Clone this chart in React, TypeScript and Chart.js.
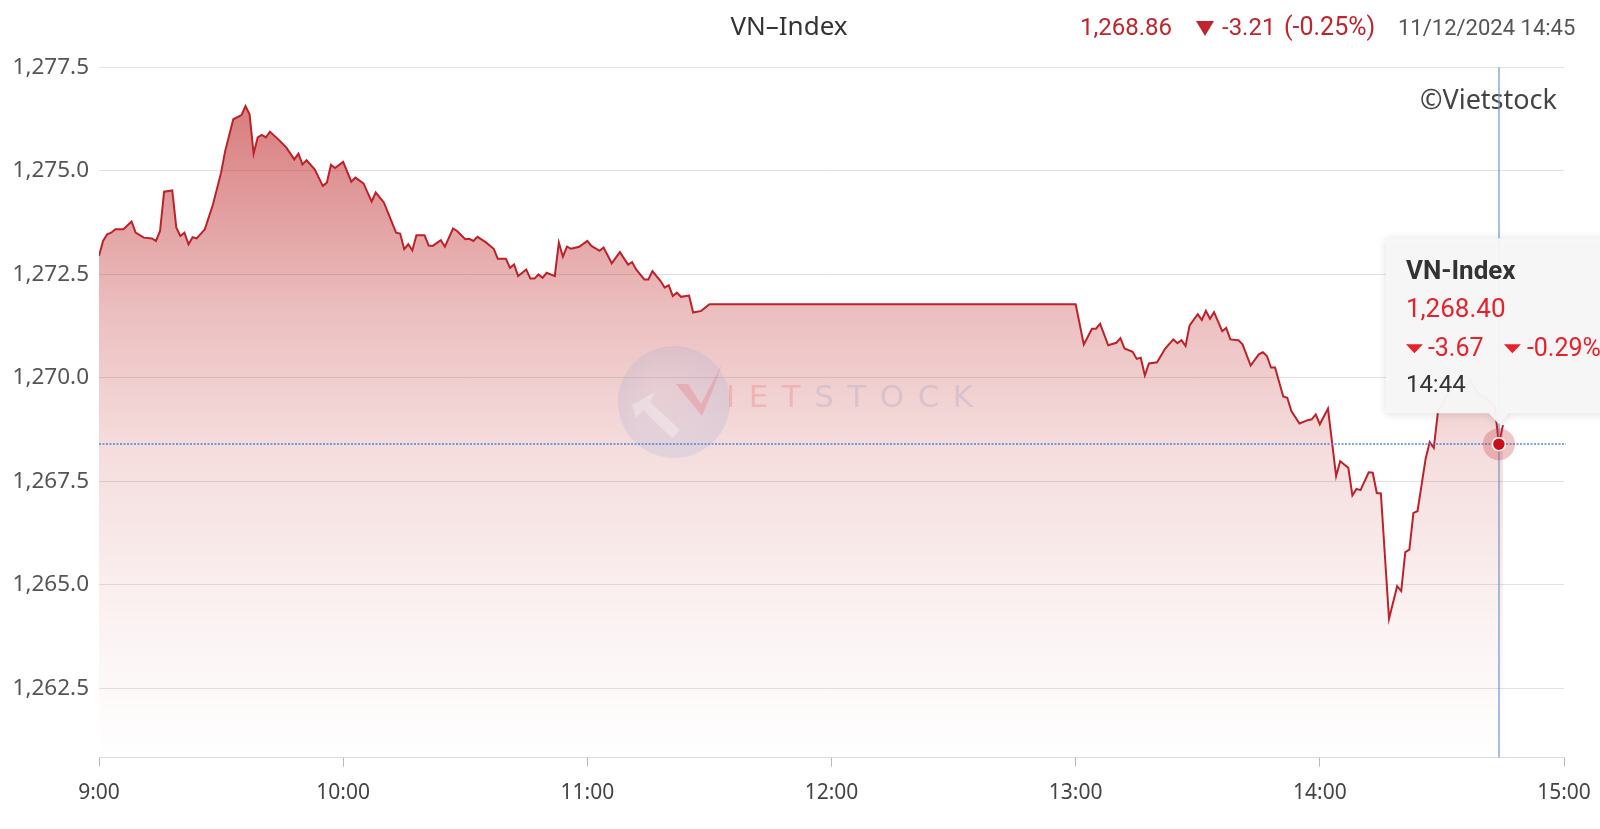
import { useEffect, useRef } from 'react';
import { Chart, registerables } from 'chart.js';

Chart.register(...registerables);

// ---- Data (minutes after 09:00, VN-Index value) ----
const minutes: number[] = [
  0, 1, 2, 3, 4, 6, 8, 9, 11, 13, 14, 15, 16, 18, 19, 20, 21, 22, 23, 24, 26, 28, 30, 31, 33, 35, 36, 37, 38, 39,
  40, 41, 42, 44, 46, 48, 49, 50, 51, 53, 55, 56, 57, 58, 60, 62, 63, 65, 67, 68, 70, 73, 74, 75, 76, 77, 78, 80,
  81, 82, 84, 85, 87, 88, 90, 91, 92, 93, 95, 97, 98, 100, 101, 102, 103, 104, 105, 106, 107, 108, 109, 110, 112,
  113, 114, 115, 116, 118, 120, 121, 123, 124, 126, 128, 130, 131, 132, 134, 135, 136, 138, 139, 140, 141, 142,
  143, 145, 146, 148, 150, 240, 242, 244, 245, 246, 248, 250, 251, 252, 254, 255, 256, 257, 258, 260, 262, 264,
  265, 266, 267, 268, 270, 271, 272, 273, 274, 276, 277, 278, 280, 281, 283, 285, 286, 287, 288, 289, 291, 292,
  293, 295, 297, 298, 299, 300, 302, 304, 305, 307, 308, 309, 310, 312, 313, 314, 315, 317, 319, 320, 321, 322,
  323, 324, 326, 327, 328, 329, 331, 333, 335, 337, 339, 341, 343, 344, 345,
];
const values: number[] = [
  1272.95, 1273.31, 1273.47, 1273.51, 1273.59, 1273.59, 1273.78, 1273.51, 1273.39, 1273.37, 1273.31, 1273.55,
  1274.5, 1274.53, 1273.63, 1273.43, 1273.51, 1273.23, 1273.4, 1273.37, 1273.59, 1274.19, 1274.96, 1275.48,
  1276.25, 1276.35, 1276.57, 1276.37, 1275.42, 1275.81, 1275.87, 1275.81, 1275.95, 1275.77, 1275.57, 1275.28,
  1275.42, 1275.16, 1275.26, 1275.04, 1274.64, 1274.72, 1275.15, 1275.07, 1275.22, 1274.74, 1274.84, 1274.7,
  1274.26, 1274.48, 1274.24, 1273.51, 1273.49, 1273.11, 1273.23, 1273.08, 1273.45, 1273.45, 1273.2, 1273.19,
  1273.33, 1273.17, 1273.61, 1273.55, 1273.35, 1273.36, 1273.31, 1273.41, 1273.28, 1273.12, 1272.88, 1272.88,
  1272.66, 1272.74, 1272.46, 1272.54, 1272.62, 1272.4, 1272.4, 1272.5, 1272.42, 1272.54, 1272.46, 1273.27,
  1272.93, 1273.17, 1273.12, 1273.17, 1273.31, 1273.19, 1273.07, 1273.15, 1272.77, 1273.04, 1272.74, 1272.8,
  1272.62, 1272.38, 1272.38, 1272.58, 1272.34, 1272.18, 1272.24, 1271.98, 1272.06, 1271.96, 1271.99, 1271.58,
  1271.62, 1271.78, 1271.78, 1270.81, 1271.19, 1271.19, 1271.31, 1270.79, 1270.85, 1270.96, 1270.71, 1270.63,
  1270.46, 1270.49, 1270.06, 1270.35, 1270.38, 1270.71, 1270.93, 1270.84, 1270.91, 1270.77, 1271.27, 1271.54,
  1271.4, 1271.62, 1271.43, 1271.59, 1271.13, 1271.21, 1270.93, 1270.91, 1270.81, 1270.3, 1270.57, 1270.62,
  1270.53, 1270.25, 1270.25, 1269.55, 1269.52, 1269.2, 1268.9, 1268.98, 1269.0, 1269.12, 1268.88, 1269.26,
  1267.63, 1267.99, 1267.83, 1267.16, 1267.32, 1267.29, 1267.72, 1267.71, 1267.22, 1267.21, 1264.18, 1264.97,
  1264.85, 1265.79, 1265.85, 1266.74, 1266.78, 1268.05, 1268.45, 1268.31, 1269.16, 1269.55, 1269.85, 1269.7,
  1269.95, 1269.6, 1269.5, 1269.3, 1268.4, 1268.86,
];

const xTickMinutes: number[] = [0, 60, 120, 180, 240, 300, 360];
const xTickLabels: string[] = ['9:00', '10:00', '11:00', '12:00', '13:00', '14:00', '15:00'];
const yTickValues: number[] = [1262.5, 1265, 1267.5, 1270, 1272.5, 1275, 1277.5];
const yMin = 1260.83;
const yMax = 1277.5;

const titleText = 'VN–Index';
const lastPrice = '1,268.86';
const lastChange = '-3.21';
const lastChangePct = '(-0.25%)';
const stampText = '11/12/2024 14:45';
const copyrightText = '©Vietstock';
const watermarkText = 'IETSTOCK';

const hoverSeries = 'VN-Index';
const hoverMinute = 344;
const hoverValue = 1268.4;
const hoverValueText = '1,268.40';
const hoverChange = '-3.67';
const hoverPct = '-0.29%';
const hoverTime = '14:44';

const W = 1600;
const H = 829;

function downTriangle(ctx: CanvasRenderingContext2D, x: number, y: number, w: number, h: number, color: string) {
  ctx.beginPath();
  ctx.moveTo(x, y);
  ctx.lineTo(x + w, y);
  ctx.lineTo(x + w / 2, y + h);
  ctx.closePath();
  ctx.fillStyle = color;
  ctx.fill();
}

function drawWatermark(ctx: CanvasRenderingContext2D) {
  ctx.save();
  const cx = 674;
  const cy = 402;
  const r = 56;
  const g = ctx.createRadialGradient(cx - 15, cy - 15, 5, cx, cy, r);
  g.addColorStop(0, 'rgba(185,192,222,0.18)');
  g.addColorStop(1, 'rgba(160,172,210,0.24)');
  ctx.fillStyle = g;
  ctx.beginPath();
  ctx.arc(cx, cy, r, 0, Math.PI * 2);
  ctx.fill();
  // arrow inside logo
  ctx.fillStyle = 'rgba(255,255,255,0.30)';
  ctx.beginPath();
  ctx.moveTo(632, 405);
  ctx.lineTo(655, 392);
  ctx.lineTo(650, 402);
  ctx.lineTo(680, 430);
  ctx.lineTo(672, 438);
  ctx.lineTo(643, 410);
  ctx.lineTo(636, 418);
  ctx.closePath();
  ctx.fill();
  // red V swoosh
  ctx.fillStyle = 'rgba(235,90,100,0.26)';
  ctx.beginPath();
  ctx.moveTo(676, 384);
  ctx.lineTo(688, 384);
  ctx.lineTo(701, 404);
  ctx.lineTo(722, 364);
  ctx.lineTo(712, 392);
  ctx.lineTo(702, 416);
  ctx.closePath();
  ctx.fill();
  // letters
  ctx.font = '31px "DejaVu Sans"';
  ctx.textAlign = 'left';
  ctx.textBaseline = 'middle';
  let x = 726;
  const spacing = 13.5;
  watermarkText.split('').forEach((ch, i) => {
    ctx.fillStyle = i < 3 ? 'rgba(235,95,105,0.26)' : 'rgba(150,158,190,0.28)';
    ctx.fillText(ch, x, 399);
    x += ctx.measureText(ch).width + spacing;
  });
  ctx.restore();
}

const overlayPlugin = {
  id: 'vnOverlay',
  afterDatasetsDraw(chart: any) {
    const { ctx, chartArea: ca, scales } = chart;
    const px = scales.x.getPixelForValue(hoverMinute);
    const py = scales.y.getPixelForValue(hoverValue);

    drawWatermark(ctx);

    // copyright
    ctx.save();
    ctx.font = '27px "Noto Sans"';
    ctx.fillStyle = '#444';
    ctx.textAlign = 'right';
    ctx.textBaseline = 'middle';
    ctx.fillText(copyrightText, 1557, 101);
    ctx.restore();

    // crosshairs
    ctx.save();
    ctx.lineWidth = 1.2;
    ctx.strokeStyle = '#6a94c8';
    const vx = Math.round(px);
    ctx.beginPath();
    ctx.moveTo(vx, ca.top);
    ctx.lineTo(vx, ca.bottom);
    ctx.stroke();
    ctx.setLineDash([2, 1.5]);
    ctx.lineWidth = 1.5;
    ctx.strokeStyle = 'rgba(70,130,215,0.95)';
    const hy = Math.round(py);
    ctx.beginPath();
    ctx.moveTo(ca.left, hy);
    ctx.lineTo(ca.right + 2, hy);
    ctx.stroke();
    ctx.restore();

    // marker
    ctx.save();
    ctx.fillStyle = 'rgba(200,45,50,0.28)';
    ctx.beginPath();
    ctx.arc(px, py, 16, 0, Math.PI * 2);
    ctx.fill();
    ctx.fillStyle = '#c80f1a';
    ctx.strokeStyle = '#ffffff';
    ctx.lineWidth = 1.5;
    ctx.beginPath();
    ctx.arc(px, py, 6.5, 0, Math.PI * 2);
    ctx.fill();
    ctx.stroke();
    ctx.restore();

    // tooltip box
    const left = px - 113;
    const top = py - 206;
    const bottom = py - 31;
    const right = W + 10;
    ctx.save();
    ctx.shadowColor = 'rgba(0,0,0,0.14)';
    ctx.shadowBlur = 8;
    ctx.shadowOffsetY = 1;
    ctx.fillStyle = 'rgba(247,247,247,0.97)';
    ctx.beginPath();
    ctx.moveTo(left + 3, top);
    ctx.lineTo(right, top);
    ctx.lineTo(right, bottom);
    ctx.lineTo(px + 10, bottom);
    ctx.lineTo(px, bottom + 11);
    ctx.lineTo(px - 10, bottom);
    ctx.lineTo(left + 3, bottom);
    ctx.quadraticCurveTo(left, bottom, left, bottom - 3);
    ctx.lineTo(left, top + 3);
    ctx.quadraticCurveTo(left, top, left + 3, top);
    ctx.closePath();
    ctx.fill();
    ctx.restore();

    ctx.save();
    const tx = left + 20;
    ctx.textAlign = 'left';
    ctx.textBaseline = 'middle';
    ctx.fillStyle = '#333333';
    ctx.font = 'bold 26px Roboto';
    ctx.fillText(hoverSeries, tx, top + 34);
    ctx.fillStyle = '#e8222a';
    ctx.font = '26px Roboto';
    ctx.fillText(hoverValueText, tx, top + 72);
    ctx.font = '25px Roboto';
    downTriangle(ctx, tx, top + 106, 17, 9, '#e8222a');
    ctx.fillStyle = '#e8222a';
    ctx.fillText(hoverChange, tx + 22, top + 112);
    downTriangle(ctx, tx + 98, top + 106, 17, 9, '#e8222a');
    ctx.fillStyle = '#e8222a';
    ctx.fillText(hoverPct, tx + 121, top + 112);
    ctx.fillStyle = '#333333';
    ctx.font = '24px Roboto';
    ctx.fillText(hoverTime, tx, top + 148);
    ctx.restore();
  },
  afterDraw(chart: any) {
    const { ctx } = chart;
    ctx.save();
    ctx.textBaseline = 'middle';
    ctx.textAlign = 'center';
    ctx.fillStyle = '#333333';
    ctx.font = '26px "Noto Sans"';
    ctx.fillText(titleText, 789, 28);

    ctx.textAlign = 'left';
    ctx.fillStyle = '#c0252b';
    ctx.font = '24px Roboto';
    ctx.fillText(lastPrice, 1080, 29);
    downTriangle(ctx, 1196, 21, 18, 15, '#c0252b');
    ctx.fillStyle = '#c0252b';
    ctx.fillText(lastChange, 1222, 29);
    ctx.font = '25px Roboto';
    ctx.fillText(lastChangePct, 1284, 29);
    ctx.fillStyle = '#555555';
    ctx.font = '22px Roboto';
    ctx.fillText(stampText, 1398, 29);
    ctx.restore();
  },
};

export default function App() {
  const canvasRef = useRef<HTMLCanvasElement | null>(null);

  useEffect(() => {
    const canvas = canvasRef.current;
    if (!canvas) return;
    const points = minutes.map((m, i) => ({ x: m, y: values[i] }));

    const chart = new Chart(canvas, {
      type: 'line',
      data: {
        datasets: [
          {
            label: hoverSeries,
            data: points,
            borderColor: '#be2128',
            borderWidth: 2,
            pointRadius: 0,
            tension: 0,
            fill: 'start',
            backgroundColor: (context: any) => {
              const { chart: c } = context;
              const ca = c.chartArea;
              if (!ca) return 'rgba(191,40,42,0.3)';
              const g = c.ctx.createLinearGradient(0, ca.top, 0, ca.bottom);
              g.addColorStop(0, 'rgba(191,40,42,0.64)');
              g.addColorStop(0.1, 'rgba(191,40,42,0.56)');
              g.addColorStop(0.35, 'rgba(191,40,42,0.30)');
              g.addColorStop(0.55, 'rgba(191,40,42,0.16)');
              g.addColorStop(0.77, 'rgba(191,40,42,0.07)');
              g.addColorStop(1, 'rgba(191,40,42,0)');
              return g;
            },
          },
        ],
      },
      options: {
        responsive: false,
        animation: false,
        events: [],
        layout: { padding: { top: 67.5, right: 36, left: 0, bottom: 0 } },
        plugins: {
          legend: { display: false },
          tooltip: { enabled: false },
          title: { display: false },
        },
        scales: {
          x: {
            type: 'linear',
            min: 0,
            max: 360,
            afterBuildTicks: (s: any) => {
              s.ticks = xTickMinutes.map((v) => ({ value: v }));
            },
            afterFit: (s: any) => {
              s.height = H - 757.5;
              s.paddingLeft = 0;
              s.paddingRight = 0;
            },
            grid: {
              drawOnChartArea: false,
              drawTicks: true,
              tickLength: 9,
              tickColor: '#b8b8b8',
            },
            border: { display: true, color: '#dcdcdc', width: 1 },
            ticks: {
              autoSkip: false,
              maxRotation: 0,
              padding: 14,
              color: '#444444',
              font: { family: '"Noto Sans"', size: 21 },
              callback: (v: any) => {
                const i = xTickMinutes.indexOf(Number(v));
                return i >= 0 ? xTickLabels[i] : '';
              },
            },
          },
          y: {
            min: yMin,
            max: yMax,
            afterBuildTicks: (s: any) => {
              s.ticks = yTickValues.map((v) => ({ value: v }));
            },
            afterFit: (s: any) => {
              s.width = 99;
              s.paddingTop = 0;
              s.paddingBottom = 0;
            },
            grid: { color: '#e2e2e2', lineWidth: 1, drawTicks: false },
            border: { display: false },
            ticks: {
              padding: 10,
              color: '#555555',
              font: { family: '"Noto Sans"', size: 22.5 },
              callback: (v: any) =>
                Number(v).toLocaleString('en-US', { minimumFractionDigits: 1, maximumFractionDigits: 1 }),
            },
          },
        },
      },
      plugins: [overlayPlugin],
    } as any);

    return () => {
      chart.destroy();
    };
  }, []);

  return (
    <div style={{ position: 'fixed', left: 0, top: 0, width: W, height: H, background: '#ffffff' }}>
      <canvas ref={canvasRef} width={W} height={H} style={{ width: W, height: H, display: 'block' }} />
    </div>
  );
}
